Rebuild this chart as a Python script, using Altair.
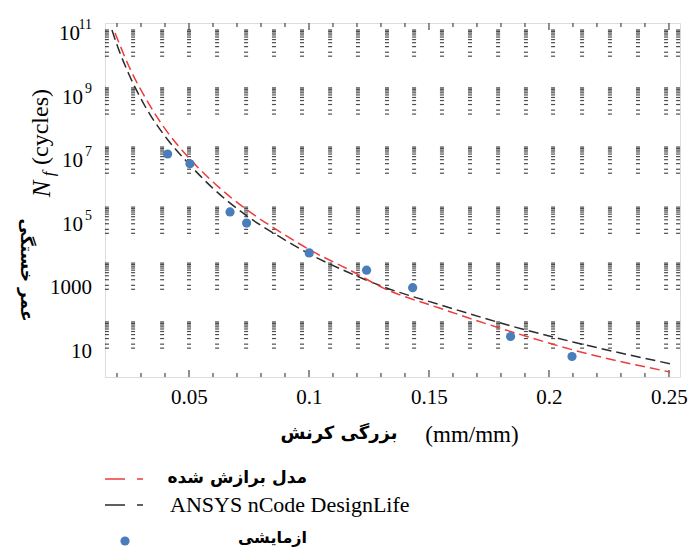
import altair as alt
import pandas as pd

# ---------------- data ----------------
exp_strain = [0.0411, 0.0504, 0.0671, 0.0740, 0.1001, 0.1240, 0.1432, 0.1840, 0.2096]
exp_cycles = [1.26e7, 6.2e6, 1.9e5, 8.5e4, 9.8e3, 2.8e3, 790, 23, 5.4]

fit_strain = [0.0192, 0.0250, 0.0325, 0.0404, 0.0496, 0.0600, 0.0742, 0.0879, 0.1017,
              0.1171, 0.1308, 0.1546, 0.1908, 0.2100, 0.2504]
fit_cycles = [8.1e10, 7.1e9, 6.0e8, 7.1e7, 1.02e7, 1.66e6, 2.2e5, 4.5e4, 1.07e4,
              2.8e3, 780, 178, 23, 8.7, 1.76]

ansys_strain = [0.0179, 0.0204, 0.0250, 0.0317, 0.0408, 0.0492, 0.0600, 0.0742, 0.0879,
                0.1004, 0.1158, 0.1308, 0.1546, 0.1908, 0.2100, 0.2504]
ansys_cycles = [1.0e11, 2.8e10, 4.0e9, 4.0e8, 3.8e7, 7.1e6, 1.05e6, 1.41e5, 3.1e4,
                8.9e3, 2.5e3, 850, 229, 36, 15.5, 3.2]

# axis tick / label values
x_major = [0.05, 0.1, 0.15, 0.2, 0.25]
x_minor = [0.02, 0.03, 0.04, 0.06, 0.07, 0.08, 0.09, 0.11, 0.12, 0.13, 0.14,
           0.16, 0.17, 0.18, 0.19, 0.21, 0.22, 0.23, 0.24]
ylab_value = [1e11, 1e9, 1e7, 1e5, 1e3, 1e1]
ylab_base = ["10", "10", "10", "10", "1000", "10"]
ylab_sup = ["11", "9", "7", "5", "", ""]

# dotted tick-grid columns (as drawn in the picture)
col_strain = [0.0158, 0.0267, 0.0388, 0.05, 0.0617, 0.0738, 0.0854, 0.0971, 0.1088,
              0.1204, 0.1325, 0.1438, 0.1554, 0.1671, 0.1788, 0.1904, 0.2017, 0.2138,
              0.2254, 0.2371, 0.2488, 0.2538]
band_top_exp = [11.0, 9.18, 7.32, 5.43, 3.67, 1.82]
minor_mult = [10, 9, 8, 7, 6, 5, 4, 3, 2, 1.5]

legend_labels = ["مدل برازش شده", "ANSYS nCode DesignLife", "ازمایشی"]
x_title_fa = "بزرگی کرنش"
x_title_unit = "(mm/mm)"
y_title_fa = "عمر خستگی"

# ---------------- frames ----------------
W, H = 575, 354
SERIF = "Liberation Serif"
FA = "DejaVu Sans"
RED = "#ee3b3b"
BLACK = "#2b2b2b"
BLUE = "#4a7ebb"

df_exp = pd.DataFrame({"strain": exp_strain, "cycles": exp_cycles})
df_fit = pd.DataFrame({"strain": fit_strain, "cycles": fit_cycles})
df_ans = pd.DataFrame({"strain": ansys_strain, "cycles": ansys_cycles})
df_grid = pd.DataFrame(
    [{"strain": c, "cycles": (10 ** (t - 1)) * k}
     for c in col_strain for t in band_top_exp for k in minor_mult]
)
df_xmaj = pd.DataFrame({"strain": x_major})
df_xmin = pd.DataFrame({"strain": x_minor})
df_ylab = pd.DataFrame({"cycles": ylab_value, "base": ylab_base, "sup": ylab_sup})
one = pd.DataFrame({"a": [0]})

xscale = alt.Scale(domain=[0.015, 0.2546], nice=False, zero=False)
yscale = alt.Scale(type="log", domain=[1.225, 1.66e11], nice=False)

x_axis = alt.Axis(values=x_major, format=".2~f", labelFont=SERIF, labelFontSize=21,
                  labelColor="black", tickSize=0, domain=False, grid=False,
                  labelPadding=9, labelFlush=False, title=None)

Xn = alt.X("strain:Q", scale=xscale, axis=x_axis)
Yn = alt.Y("cycles:Q", scale=yscale, axis=None)

grid = alt.Chart(df_grid).mark_tick(
    orient="horizontal", size=4, thickness=1.2, color="black"
).encode(x=Xn, y=Yn)

tick_layers = []
for df, ln in ((df_xmaj, 7), (df_xmin, 4)):
    tick_layers.append(alt.Chart(df).mark_rule(color="#222", strokeWidth=1).encode(
        x=Xn, y=alt.value(0), y2=alt.value(ln)))
    tick_layers.append(alt.Chart(df).mark_rule(color="#222", strokeWidth=1).encode(
        x=Xn, y=alt.value(H), y2=alt.value(H - ln)))

fit_line = alt.Chart(df_fit).mark_line(
    color=RED, strokeDash=[10, 5], strokeWidth=1.5, clip=True, interpolate="monotone"
).encode(x=Xn, y=Yn)

ans_line = alt.Chart(df_ans).mark_line(
    color=BLACK, strokeDash=[10, 5], strokeWidth=1.5, clip=True, interpolate="monotone"
).encode(x=Xn, y=Yn)

pts = alt.Chart(df_exp).mark_circle(color=BLUE, size=85, opacity=1).encode(x=Xn, y=Yn)

# y labels with superscripts
ylabel_layers = []
for n, xpos in ((2, -25), (1, -22), (0, -13)):
    ylabel_layers.append(
        alt.Chart(df_ylab).transform_filter(f"length(datum.sup) == {n}").mark_text(
            align="right", baseline="middle", font=SERIF, fontSize=21, color="black", dy=4
        ).encode(x=alt.value(xpos), y=Yn, text="base:N"))
ylabel_layers.append(
    alt.Chart(df_ylab).transform_filter("length(datum.sup) > 0").mark_text(
        align="right", baseline="middle", font=SERIF, fontSize=14, color="black", dy=-5
    ).encode(x=alt.value(-13), y=Yn, text="sup:N"))


def txt(text, x, y, **kw):
    return alt.Chart(one).mark_text(text=text, baseline="middle", **kw).encode(
        x=alt.value(x), y=alt.value(y))


titles = [
    txt(x_title_fa, 234, 411, font=FA, fontWeight="bold", fontSize=18, color="black"),
    txt(x_title_unit, 367, 412, font=SERIF, fontSize=23, color="black"),
    txt("(cycles)", -64, 104, angle=270, font=SERIF, fontSize=24, color="black"),
    txt("N", -63, 166, angle=270, font=SERIF, fontStyle="italic", fontSize=25, color="black"),
    txt("f", -56, 151, angle=270, font=SERIF, fontStyle="italic", fontSize=17, color="black"),
    txt(y_title_fa, -79, 247, angle=90, font=FA, fontWeight="bold", fontSize=17, color="black"),
]

legend = [
    alt.Chart(one).mark_rule(color=RED, strokeWidth=1.5, strokeDash=[20, 12]).encode(
        x=alt.value(0), x2=alt.value(38), y=alt.value(456)),
    alt.Chart(one).mark_rule(color=BLACK, strokeWidth=1.5, strokeDash=[20, 12]).encode(
        x=alt.value(0), x2=alt.value(38), y=alt.value(482)),
    alt.Chart(one).mark_circle(color=BLUE, size=85, opacity=1).encode(
        x=alt.value(20), y=alt.value(518)),
    txt(legend_labels[0], 202, 455, align="right", font=FA, fontWeight="bold",
        fontSize=17, color="black"),
    txt(legend_labels[1], 65, 482, align="left", font=SERIF, fontSize=22, color="black"),
    txt(legend_labels[2], 202, 515, align="right", font=FA, fontWeight="bold",
        fontSize=16, color="black"),
]

chart = alt.layer(
    grid, *tick_layers, ans_line, fit_line, pts, *ylabel_layers, *titles, *legend
).properties(
    width=W, height=H,
    autosize=alt.AutoSizeParams(type="none"),
    padding={"left": 97, "top": 15, "right": 10, "bottom": 176},
).configure_view(stroke="#333", strokeWidth=1.5).configure(background="white")

chart.save("out.html", embed_options={"renderer": "svg", "actions": False})
